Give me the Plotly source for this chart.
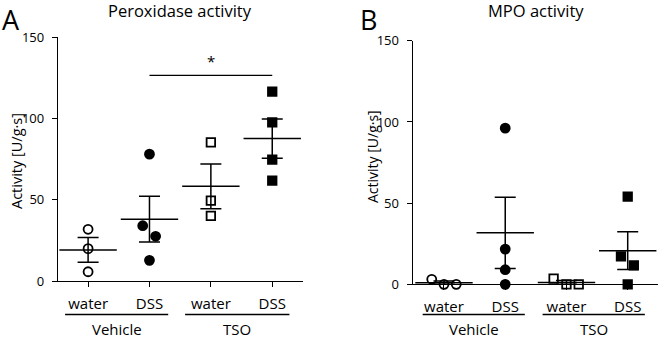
import numpy as np
import plotly.graph_objects as go

# ---------------- data ----------------
tick_labels = ["water", "DSS", "water", "DSS"]
group_labels = ["Vehicle", "TSO"]
y_ticks = [0, 50, 100, 150]

# Panel A: Peroxidase activity
a_veh_water = [31.8, 19.9, 5.7]
a_veh_dss = [78.0, 34.0, 27.5, 12.7]
a_tso_water = [85.2, 49.4, 40.0]
a_tso_dss = [116.4, 97.5, 74.6, 61.7]

# Panel B: MPO activity
b_veh_water = [3.1, 0.0, 0.0]
b_veh_dss = [96.2, 21.7, 9.0, 0.0]
b_tso_water = [3.5, 0.0, 0.0]
b_tso_dss = [54.0, 17.2, 11.7, 0.0]

# horizontal spread of overlapping points (category units)
a_jit = [[0, 0, 0], [0, -0.11, 0.10, 0], [0, 0, 0], [0, 0, 0, 0]]
b_jit = [[-0.2, 0, 0.2], [0, 0, 0, 0], [-0.21, 0, 0.2], [0, -0.11, 0.1, 0]]

FONT = "Open Sans"
symbols = ["circle-open", "circle", "square-open", "square"]
sizes = [9, 9, 8.5, 8.5]

fig = go.Figure()


def add_panel(groups, jit, xa, ya):
    for i, (vals, j) in enumerate(zip(groups, jit)):
        xc = i + 1
        fig.add_trace(go.Scatter(
            x=[xc + d for d in j], y=vals, mode="markers",
            marker=dict(symbol=symbols[i], size=sizes[i], color="black",
                        line=dict(color="black", width=1.8)),
            cliponaxis=False, xaxis=xa, yaxis=ya, showlegend=False,
            hoverinfo="skip"))
        arr = np.array(vals, dtype=float)
        m = arr.mean()
        sem = arr.std(ddof=1) / np.sqrt(len(arr))
        fig.add_trace(go.Scatter(
            x=[xc], y=[m], mode="markers",
            marker=dict(symbol="line-ew", size=41, color="black",
                        line=dict(color="black", width=1.5)),
            error_y=dict(type="data", array=[sem], visible=True,
                         color="black", thickness=1.5, width=10.5),
            cliponaxis=False, xaxis=xa, yaxis=ya, showlegend=False,
            hoverinfo="skip"))


add_panel([a_veh_water, a_veh_dss, a_tso_water, a_tso_dss], a_jit, "x", "y")
add_panel([b_veh_water, b_veh_dss, b_tso_water, b_tso_dss], b_jit, "x2", "y2")

xcommon = dict(tickmode="array", tickvals=[1, 2, 3, 4], ticktext=tick_labels,
               showline=True, linecolor="black", linewidth=1.3,
               ticks="outside", ticklen=5, tickwidth=1.3, tickcolor="black",
               showgrid=False, zeroline=False, automargin=False,
               tickfont=dict(family=FONT, size=15, color="black"),
               ticklabelstandoff=4)
ycommon = dict(tickmode="array", tickvals=y_ticks, range=[0, 150],
               showline=True, linecolor="black", linewidth=1.3,
               ticks="outside", ticklen=5, tickwidth=1.3, tickcolor="black",
               showgrid=False, zeroline=False, ticklabelstandoff=5, automargin=False,
               tickfont=dict(family=FONT, size=13, color="black"))

fig.update_layout(
    template="none",
    width=660, height=340, autosize=False,
    margin=dict(l=0, r=0, t=0, b=0, pad=0),
    paper_bgcolor="white", plot_bgcolor="white",
    xaxis=dict(domain=[0.0879, 0.459], range=[0.51, 4.5], anchor="y", **xcommon),
    yaxis=dict(domain=[0.1735, 0.891], anchor="x", **ycommon),
    xaxis2=dict(domain=[0.6253, 0.997], range=[0.489, 4.495], anchor="y2", **xcommon),
    yaxis2=dict(domain=[0.1638, 0.880], anchor="x2", **ycommon),
)

# panel letters (anchored to top edge)
for letter, px in (("A", 11), ("B", 368)):
    fig.add_annotation(x=px / 660, y=1, xref="paper", yref="paper", text=letter,
                       showarrow=False, xanchor="center", yanchor="top", borderpad=0,
                       font=dict(family=FONT, size=27, color="black"))

ann = []
ann.append(dict(text="Peroxidase activity", x=180, y=11, font_size=16.5))
ann.append(dict(text="MPO activity", x=536, y=11, font_size=16.5))
# y titles
ann.append(dict(text="Activity [U/g·s]", x=16, y=161, font_size=14.5, textangle=-90))
ann.append(dict(text="Activity [U/g·s]", x=372, y=157, font_size=14, textangle=-90))
for a in ann:
    px, py = a.pop("x"), a.pop("y")
    fs = a.pop("font_size")
    fig.add_annotation(x=px / 660, y=1 - py / 340, xref="paper", yref="paper",
                       showarrow=False, xanchor="center", yanchor="middle",
                       font=dict(family=FONT, size=fs, color="black"), **a)

# group underlines and labels
for xa, spans in (("x", [(0.625, 2.305), (2.58, 4.28)]),
                  ("x2", [(0.652, 2.32), (2.61, 4.28)])):
    for (x0, x1), g in zip(spans, group_labels):
        fig.add_shape(type="line", xref=xa, yref="paper", x0=x0, x1=x1,
                      y0=1 - 314.5 / 340, y1=1 - 314.5 / 340,
                      line=dict(color="black", width=1.3))
        fig.add_annotation(x=(x0 + x1) / 2, y=0, xref=xa, yref="paper",
                           text=g, showarrow=False, xanchor="center", yanchor="bottom",
                           borderpad=0,
                           font=dict(family=FONT, size=15, color="black"))

# significance bar
fig.add_shape(type="line", xref="x", yref="y", x0=2, x1=4, y0=126.4, y1=126.4,
              line=dict(color="black", width=1.3))
fig.add_annotation(x=3, y=135, xref="x", yref="y", text="*", showarrow=False,
                   yanchor="middle", font=dict(family=FONT, size=15, color="black"))

fig.write_html("out.html",
               config={"displayModeBar": False, "responsive": False},
               post_script="document.body.style.margin='0';document.body.style.overflow='hidden';")
